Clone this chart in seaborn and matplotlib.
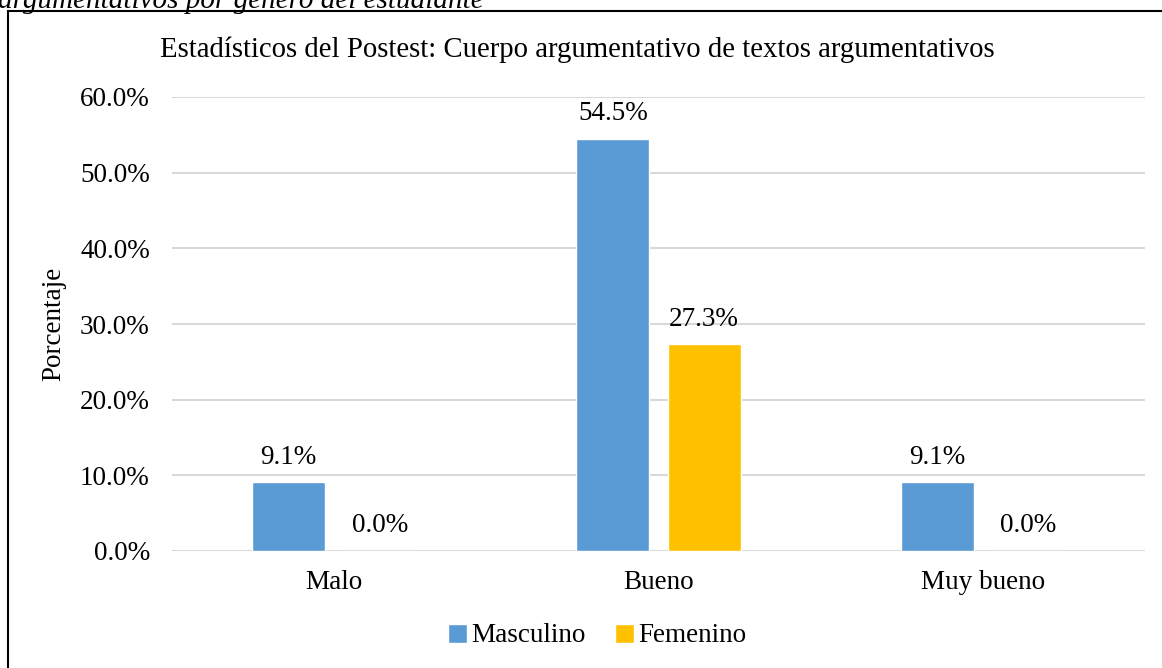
import matplotlib
matplotlib.use("Agg")
import matplotlib.pyplot as plt
import matplotlib.patches as mpatches
import seaborn as sns
import pandas as pd
from matplotlib.ticker import FuncFormatter

categories = ["Malo", "Bueno", "Muy bueno"]
masculino = [9.1, 54.5, 9.1]
femenino = [0.0, 27.3, 0.0]
series_names = ["Masculino", "Femenino"]
yticks = [0, 10, 20, 30, 40, 50, 60]

df = pd.DataFrame({
    "Nivel": categories * 2,
    "Genero": [series_names[0]] * 3 + [series_names[1]] * 3,
    "Porcentaje": masculino + femenino,
})

sns.set_theme(style="white")
plt.rcParams["font.family"] = ["Liberation Serif", "DejaVu Serif"]
plt.rcParams["text.color"] = "#000000"

fig = plt.figure(figsize=(11.62, 6.68), dpi=100)
ax = fig.add_axes([172/1162, 1-551/668, (1145-172)/1162, (551-97)/668])

sns.barplot(data=df, x="Nivel", y="Porcentaje", hue="Genero", order=categories,
            hue_order=series_names, palette=["#5B9BD5", "#FFC000"],
            width=0.562, gap=0.2, ax=ax, legend=True, saturation=1)

for c in ax.containers:
    ax.bar_label(c, labels=[f"{v:.1f}%" for v in c.datavalues], padding=9,
                 fontsize=19.5, color="#000000")

ax.set_ylim(0, 60)
ax.set_yticks(yticks)
ax.yaxis.set_major_formatter(FuncFormatter(lambda v, p: f"{v:.1f}%"))
ax.grid(axis="y", color="#d9d9d9", linewidth=1.5)
ax.set_axisbelow(True)
for s in ax.spines.values():
    s.set_visible(False)
ax.tick_params(axis="y", length=0, pad=16, labelsize=19.5, colors="#000000")
ax.tick_params(axis="x", length=0, pad=14, labelsize=19.5, colors="#000000")
ax.set_xlabel("")
ax.set_ylabel("Porcentaje", fontsize=19.5, labelpad=10, color="#000000")

leg = ax.legend(loc="center", bbox_to_anchor=(597/1162, 1-636/668),
                bbox_transform=fig.transFigure, ncol=2, frameon=False,
                fontsize=19.5, handlelength=0.7, handleheight=0.7,
                handletextpad=0.15, columnspacing=1.1)
for t in leg.get_texts():
    t.set_color("#000000")

fig.text(0.497, 1-50/668, "Estadísticos del Postest: Cuerpo argumentativo de textos argumentativos",
         ha="center", va="center", fontsize=20.7, color="#000000")

fig.text(-0.002, 1.0, "argumentativos por género del estudiante", ha="left", va="center",
         fontsize=21, style="italic", color="#000000")

rect = mpatches.Rectangle((8/1162, -0.1), 1.2, 1 - 11/668 + 0.1, transform=fig.transFigure,
                          fill=False, edgecolor="#000000", linewidth=1.5, clip_on=False)
fig.patches.append(rect)

fig.savefig("out.png", dpi=100)
